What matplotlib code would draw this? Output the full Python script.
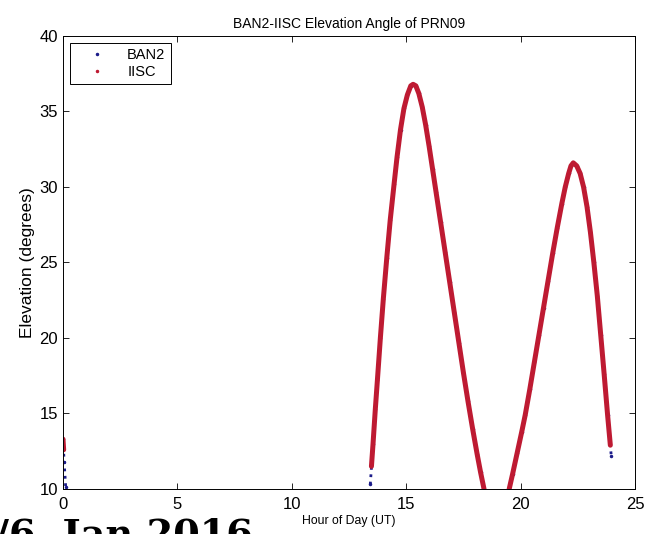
import numpy as np
import matplotlib
matplotlib.use('Agg')
import matplotlib.pyplot as plt
from matplotlib.lines import Line2D

plt.rcParams['font.family'] = ['Liberation Sans', 'DejaVu Sans']

# values, passes split by nan
ban2_hour = [0.0, 0.05, 0.12, np.nan,
             13.43, 13.55, 13.65, 13.74, 13.87, 14.0, 14.15, 14.3, 14.47, 14.6, 14.75, 14.9,
             15.05, 15.2, 15.3, 15.42, 15.55, 15.7, 15.85, 16.0, 16.15, 16.3, 16.5, 16.7, 16.9,
             17.1, 17.3, 17.5, 17.7, 17.9, 18.1, 18.25, 18.4, np.nan,
             19.5, 19.65, 19.85, 20.05, 20.2, 20.4, 20.6, 20.8, 21.0, 21.2, 21.4, 21.6, 21.8,
             21.95, 22.1, 22.2, 22.3, 22.45, 22.6, 22.75, 22.9, 23.05, 23.2, 23.35, 23.5, 23.65,
             23.8, 23.96]
ban2_elev = [13.3, 11.8, 10.1, np.nan,
             10.3, 13.0, 15.3, 17.2, 20.0, 22.6, 25.3, 27.8, 30.2, 32.0, 33.8, 35.2,
             36.1, 36.7, 36.8, 36.7, 36.2, 35.3, 34.1, 32.7, 31.2, 29.7, 27.7, 25.7, 23.7,
             21.7, 19.7, 17.7, 15.8, 14.0, 12.3, 11.1, 10.0, np.nan,
             10.0, 11.0, 12.4, 13.8, 14.9, 16.6, 18.4, 20.2, 22.0, 23.8, 25.6, 27.3, 28.9,
             30.0, 30.9, 31.4, 31.6, 31.4, 30.9, 30.0, 28.7, 27.0, 25.0, 22.8, 20.2, 17.6,
             14.9, 12.2]

iisc_hour = [0.0, 0.03, np.nan,
             13.48, 13.55, 13.65, 13.74, 13.87, 14.0, 14.15, 14.3, 14.47, 14.6, 14.75, 14.9,
             15.05, 15.2, 15.3, 15.42, 15.55, 15.7, 15.85, 16.0, 16.15, 16.3, 16.5, 16.7, 16.9,
             17.1, 17.3, 17.5, 17.7, 17.9, 18.1, 18.25, 18.4, np.nan,
             19.5, 19.65, 19.85, 20.05, 20.2, 20.4, 20.6, 20.8, 21.0, 21.2, 21.4, 21.6, 21.8,
             21.95, 22.1, 22.2, 22.3, 22.45, 22.6, 22.75, 22.9, 23.05, 23.2, 23.35, 23.5, 23.65,
             23.8, 23.92]
iisc_elev = [13.3, 12.6, np.nan,
             11.5, 13.0, 15.3, 17.2, 20.0, 22.6, 25.3, 27.8, 30.2, 32.0, 33.8, 35.2,
             36.1, 36.7, 36.8, 36.7, 36.2, 35.3, 34.1, 32.7, 31.2, 29.7, 27.7, 25.7, 23.7,
             21.7, 19.7, 17.7, 15.8, 14.0, 12.3, 11.1, 10.0, np.nan,
             10.0, 11.0, 12.4, 13.8, 14.9, 16.6, 18.4, 20.2, 22.0, 23.8, 25.6, 27.3, 28.9,
             30.0, 30.9, 31.4, 31.6, 31.4, 30.9, 30.0, 28.7, 27.0, 25.0, 22.8, 20.2, 17.6,
             14.9, 12.9]

blue = '#1c1c8a'
red = '#be1a32'

fig = plt.figure(figsize=(6.52, 5.34), dpi=100)
ax = fig.add_axes([0.0966, 0.0843, 0.8774, 0.8483])

ax.plot(ban2_hour, ban2_elev, color=blue, lw=2.0, ls=':', marker='.', ms=3)
ax.plot(iisc_hour, iisc_elev, color=red, lw=3.6, solid_capstyle='round',
        solid_joinstyle='round')

ax.set_xlim(0, 25)
ax.set_ylim(10, 40)
ax.set_xticks([0, 5, 10, 15, 20, 25])
ax.set_yticks([10, 15, 20, 25, 30, 35, 40])
ax.tick_params(direction='in', top=True, right=True, labelsize=12, length=4, width=0.6)
ax.tick_params(axis='x', pad=6)
for s in ax.spines.values():
    s.set_linewidth(0.7)

ax.set_title('BAN2-IISC Elevation Angle of PRN09', fontsize=10, pad=6)
ax.set_xlabel('Hour of Day (UT)', fontsize=8.8, labelpad=2)
ax.set_ylabel('Elevation (degrees)', fontsize=12.5, labelpad=3)

handles = [Line2D([], [], ls='none', marker='.', ms=3, color=blue),
           Line2D([], [], ls='none', marker='.', ms=3, color=red)]
leg = ax.legend(handles, ['BAN2', 'IISC'], loc='upper left', fontsize=10.5,
                fancybox=False, framealpha=1, edgecolor='black',
                borderaxespad=0.45, handlelength=3.0, labelspacing=0.25,
                borderpad=0.35, handletextpad=0.6)
leg.get_frame().set_linewidth(0.7)

# leftover slide caption cut by the bottom edge
fig.text(-0.008, -0.022, '/6, Jan 2016', fontsize=27.5, fontweight='bold',
         family='DejaVu Serif', ha='left', va='baseline')

fig.savefig('out.png', dpi=100)
